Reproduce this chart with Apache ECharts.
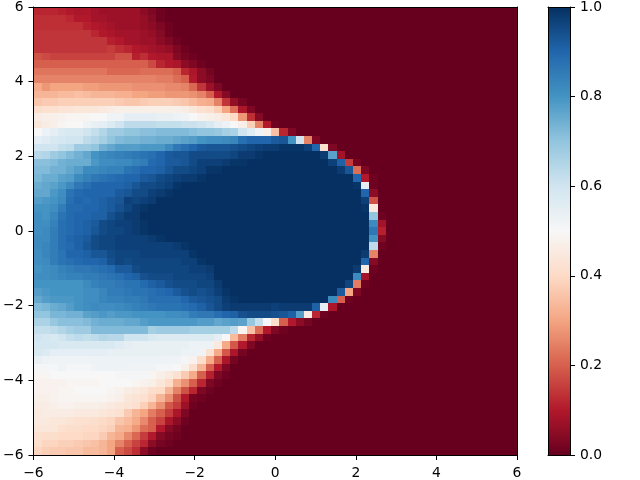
<!DOCTYPE html>
<html><head><meta charset="utf-8">
<style>html,body{margin:0;padding:0;background:#fff}#c{width:640px;height:480px}</style>
<script src="https://cdn.jsdelivr.net/npm/echarts@6/dist/echarts.min.js"></script>
</head><body><div id="c"></div>
<script>
// Values in percent, top row first; columns past the end of a row are 0.
const row00=[12,12,12,11,10,9,9,8,7,7,7,7,7,5,3,1];
const row01=[13,13,13,13,12,10,10,8,8,7,7,7,7,6,4,1];
const row02=[13,13,13,13,13,13,11,10,9,8,7,7,7,6,5,3,1];
const row03=[14,14,14,14,14,14,14,12,10,9,8,8,8,7,6,4,1];
const row04=[14,14,14,14,14,14,14,14,14,11,10,8,8,7,7,5,3,1];
const row05=[14,14,14,14,14,14,14,14,14,15,13,12,10,9,8,7,6,3,1];
const row06=[18,17,16,16,16,16,16,16,16,16,18,18,11,13,10,9,9,4,2,1];
const row07=[20,20,20,20,20,20,20,20,20,20,20,20,20,20,17,12,10,9,5,3,1];
const row08=[23,23,23,23,23,23,23,23,23,21,21,21,21,22,22,22,22,20,12,9,5,2];
const row09=[25,25,25,25,25,25,25,25,25,25,25,25,25,25,25,24,24,22,20,10,5,3];
const row10=[31,28,30,30,30,30,29,29,28,28,28,28,27,27,27,27,26,26,25,21,14,7,3];
const row11=[33,33,33,34,34,35,34,33,33,33,32,32,30,30,29,29,28,28,28,27,25,20,10,4];
const row12=[36,37,37,38,38,38,38,38,38,38,37,36,36,37,38,38,38,37,36,34,32,31,25,14,6,2];
const row13=[41,42,42,43,43,44,44,44,45,46,47,47,47,47,47,47,47,47,46,44,42,41,38,30,22,9,3];
const row14=[46,47,47,48,49,49,49,50,50,52,52,55,55,55,55,54,54,53,52,50,48,47,46,44,40,28,13,4];
const row15=[44,46,47,49,50,50,52,54,55,57,60,63,63,63,63,62,62,62,61,61,60,58,55,53,50,47,38,25,10,1];
const row16=[50,53,55,57,58,58,60,62,65,68,68,70,70,71,71,72,72,72,72,71,70,70,69,67,66,60,56,52,47,35,12,3];
const row17=[55,56,58,59,60,60,63,65,67,70,72,73,73,74,74,75,75,76,77,78,80,81,81,82,83,88,90,90,90,92,93,80,60,25,3];
const row18=[60,60,60,62,63,68,68,70,74,76,78,78,78,79,79,79,82,86,88,90,92,93,93,93,94,95,96,97,98,98,99,99,99,97,90,41,3];
const row19=[64,65,68,70,72,74,76,80,82,83,84,85,86,87,88,90,92,93,93,95,95,95,95,95,96,98,98,99,100,100,100,100,100,100,100,98,77,8];
const row20=[71,71,72,74,75,75,75,79,81,81,82,82,84,85,89,90,92,92,93,95,97,97,97,98,99,99,100,100,100,100,100,100,100,100,100,100,97,91,15,2];
const row21=[72,72,74,74,76,78,82,82,83,84,84,87,88,90,90,91,93,95,95,96,97,99,99,100,100,100,100,100,100,100,100,100,100,100,100,100,100,98,93,22,3];
const row22=[73,75,75,77,78,82,84,86,87,88,89,90,90,92,93,95,96,97,98,98,99,100,100,100,100,100,100,100,100,100,100,100,100,100,100,100,100,100,100,90,10,1];
const row23=[75,76,77,79,82,86,88,90,90,90,90,91,93,95,95,96,97,99,100,100,100,100,100,100,100,100,100,100,100,100,100,100,100,100,100,100,100,100,100,99,55,1];
const row24=[76,76,79,81,87,89,90,90,90,90,92,93,95,95,97,98,99,100,100,100,100,100,100,100,100,100,100,100,100,100,100,100,100,100,100,100,100,100,100,100,90,5];
const row25=[78,79,80,82,88,90,89,90,91,92,93,97,96,97,98,100,100,100,100,100,100,100,100,100,100,100,100,100,100,100,100,100,100,100,100,100,100,100,100,100,97,18];
const row26=[80,80,81,85,89,89,90,90,91,92,94,96,98,99,100,100,100,100,100,100,100,100,100,100,100,100,100,100,100,100,100,100,100,100,100,100,100,100,100,100,99,45];
const row27=[81,80,83,87,89,90,90,91,91,94,96,98,98,100,100,100,100,100,100,100,100,100,100,100,100,100,100,100,100,100,100,100,100,100,100,100,100,100,100,100,100,70,1];
const row28=[81,81,84,88,89,90,91,92,95,96,97,97,98,99,100,100,100,100,100,100,100,100,100,100,100,100,100,100,100,100,100,100,100,100,100,100,100,100,100,100,100,82,8];
const row29=[81,82,85,88,89,90,91,93,95,96,96,97,98,99,100,100,100,100,100,100,100,100,100,100,100,100,100,100,100,100,100,100,100,100,100,100,100,100,100,100,100,86,11];
const row30=[82,82,85,88,90,91,92,95,96,96,97,97,97,97,98,99,100,100,100,100,100,100,100,100,100,100,100,100,100,100,100,100,100,100,100,100,100,100,100,100,100,80,4];
const row31=[82,83,85,88,89,91,93,95,96,96,97,97,97,97,97,97,97,98,99,100,100,100,100,100,100,100,100,100,100,100,100,100,100,100,100,100,100,100,100,100,100,63,1];
const row32=[81,83,85,87,90,90,91,93,93,95,96,96,96,97,97,97,97,97,97,99,100,100,100,100,100,100,100,100,100,100,100,100,100,100,100,100,100,100,100,100,98,25];
const row33=[81,82,85,87,88,89,90,90,91,94,96,95,96,96,96,96,96,96,97,97,99,100,100,100,100,100,100,100,100,100,100,100,100,100,100,100,100,100,100,100,90,4];
const row34=[80,81,82,84,85,86,86,87,88,89,92,92,95,96,96,96,96,96,96,97,97,98,100,100,100,100,100,100,100,100,100,100,100,100,100,100,100,100,100,98,45,1];
const row35=[81,81,82,83,84,84,85,85,86,87,88,90,91,94,95,95,95,96,96,96,96,97,100,100,100,100,100,100,100,100,100,100,100,100,100,100,100,100,100,82,8];
const row36=[80,80,80,80,80,80,82,84,85,85,86,87,87,89,91,92,94,95,95,95,96,96,98,100,100,100,100,100,100,100,100,100,100,100,100,100,100,100,96,24,1];
const row37=[78,79,80,80,80,80,81,81,83,85,85,86,87,87,88,89,90,92,94,95,94,95,97,99,100,100,100,100,100,100,100,100,100,100,100,100,100,92,30,3];
const row38=[76,78,79,79,79,80,81,81,83,84,84,85,85,86,88,88,88,88,90,92,93,94,95,98,99,100,100,100,100,100,100,100,100,100,100,100,82,20,1];
const row39=[72,73,75,76,78,80,81,82,81,81,82,83,84,85,86,87,87,87,88,89,91,93,95,97,98,98,98,98,98,97,98,98,98,98,91,55,9];
const row40=[70,70,73,73,74,74,77,78,79,78,79,79,80,80,80,80,81,81,82,85,86,86,88,90,91,94,95,95,95,94,93,91,78,46,12,1];
const row41=[66,66,69,71,71,71,72,74,75,75,75,76,76,78,79,79,79,79,79,79,78,78,76,77,78,77,69,62,50,41,20,10,5,2];
const row42=[62,62,63,65,67,68,68,72,72,72,72,72,72,72,67,68,68,68,68,67,67,67,67,67,63,49,35,22,10,3,1];
const row43=[60,59,58,60,62,63,62,63,65,64,64,60,60,60,58,57,57,57,57,57,57,57,55,50,34,24,12,6,1];
const row44=[59,59,59,58,58,58,58,58,58,58,56,55,54,54,54,54,54,54,54,53,53,53,45,31,19,10,3];
const row45=[58,57,55,55,55,55,55,55,55,54,54,54,54,54,54,54,54,54,53,53,52,42,31,19,9,2];
const row46=[54,53,52,52,52,52,52,53,53,53,53,53,53,53,53,53,52,52,51,48,41,31,20,9,2];
const row47=[51,51,51,52,51,51,51,52,53,53,53,52,52,52,52,51,51,50,47,41,33,20,10,3];
const row48=[49,49,50,50,50,50,50,50,50,50,51,51,51,51,49,47,45,42,37,31,20,11,3,1];
const row49=[48,48,48,48,49,49,49,49,50,50,50,50,49,48,47,44,40,32,27,20,12,3,1];
const row50=[48,48,48,49,49,50,50,50,50,49,48,46,45,44,41,40,33,25,18,12,3,1];
const row51=[47,47,48,49,49,49,49,49,49,48,47,44,43,42,39,33,27,18,10,2,1];
const row52=[46,46,47,48,48,47,47,47,46,45,44,43,42,38,33,27,19,15,7,1];
const row53=[45,46,46,46,46,45,45,45,44,43,42,37,33,30,24,20,15,9,3];
const row54=[45,45,44,44,43,42,42,41,40,39,36,34,31,26,20,16,9,5,1];
const row55=[44,44,44,42,41,41,40,40,39,38,33,32,28,22,20,10,4,2];
const row56=[42,41,41,40,40,40,39,39,37,33,31,26,21,15,10,4,2,1];
const row57=[41,39,39,38,38,37,36,35,33,30,25,20,16,12,5,2,1];
const row58=[39,38,37,37,36,36,34,34,33,30,20,17,13,5,1];
const rows=[row00,row01,row02,row03,row04,row05,row06,row07,row08,row09,row10,row11,row12,row13,row14,row15,row16,row17,row18,row19,row20,row21,row22,row23,row24,row25,row26,row27,row28,row29,row30,row31,row32,row33,row34,row35,row36,row37,row38,row39,row40,row41,row42,row43,row44,row45,row46,row47,row48,row49,row50,row51,row52,row53,row54,row55,row56,row57,row58];
const rdBu=['#67001f','#b2182b','#d6604d','#f4a582','#fddbc7','#f7f7f7','#d1e5f0','#92c5de','#4393c3','#2166ac','#053061'];
const nCells=59, lo=-6, hi=6, step=(hi-lo)/nCells;
const cells=[];
rows.forEach((r,j)=>{for(let i=0;i<nCells;i++){cells.push([lo+i*step,hi-(j+1)*step,(r[i]||0)/100]);}});
const font={color:'#000',fontFamily:'DejaVu Sans',fontSize:13.89};
function axis(pos,grid,extra){return Object.assign({type:'value',position:pos,gridIndex:grid,z:10,
  splitLine:{show:false},axisLine:{show:true,onZero:false,lineStyle:{color:'#000',width:1}},
  axisTick:{show:false},axisLabel:{show:false}},extra||{});}
const tick={show:true,length:5,lineStyle:{color:'#000',width:1}};
const minus=v=>String(v).replace('-','\u2212');
const labX=Object.assign({show:true,margin:11,hideOverlap:false,showMinLabel:true,showMaxLabel:true,formatter:minus},font);
const labY=Object.assign({},labX,{margin:10});
const mainX={min:lo,max:hi,interval:2,axisTick:tick,axisLabel:labX};
const mainY={min:lo,max:hi,interval:2,axisTick:tick,axisLabel:labY};
const bar={min:0,max:1,interval:0.2,axisTick:tick,axisLabel:Object.assign({},labY,{formatter:v=>v.toFixed(1)})};
const chart=echarts.init(document.getElementById('c'),null,{renderer:'canvas'});
chart.setOption({animation:false,backgroundColor:'#fff',
 grid:[{left:32,top:7,width:485,height:448},{left:548,top:7,width:22,height:448}],
 xAxis:[axis('bottom',0,mainX),axis('top',0,{min:lo,max:hi}),axis('bottom',1,{min:0,max:1}),axis('top',1,{min:0,max:1})],
 yAxis:[axis('left',0,mainY),axis('right',0,{min:lo,max:hi}),axis('left',1,{min:0,max:1}),axis('right',1,bar)],
 visualMap:{show:false,type:'continuous',seriesIndex:0,dimension:2,min:0,max:1,inRange:{color:rdBu}},
 series:[
  {type:'custom',coordinateSystem:'cartesian2d',xAxisIndex:0,yAxisIndex:0,data:cells,progressive:0,silent:true,
   encode:{x:0,y:1},
   renderItem:function(p,api){
     const a=api.coord([api.value(0),api.value(1)+step]),b=api.coord([api.value(0)+step,api.value(1)]);
     const x=Math.round(a[0]),y=Math.round(a[1]);
     return {type:'rect',shape:{x:x,y:y,width:Math.round(b[0])-x,height:Math.round(b[1])-y},style:{fill:api.visual('color')}};
   }},
  {type:'custom',coordinateSystem:'cartesian2d',xAxisIndex:2,yAxisIndex:3,data:[[0,1]],silent:true,
   encode:{x:0,y:1},
   renderItem:function(p,api){
     const a=api.coord([0,1]),b=api.coord([1,0]);
     return {type:'rect',shape:{x:a[0],y:a[1],width:b[0]-a[0],height:b[1]-a[1]},
       style:{fill:new echarts.graphic.LinearGradient(0,1,0,0,rdBu.map((c,i)=>({offset:i/10,color:c})))}};
   }}
 ]});
</script></body></html>
